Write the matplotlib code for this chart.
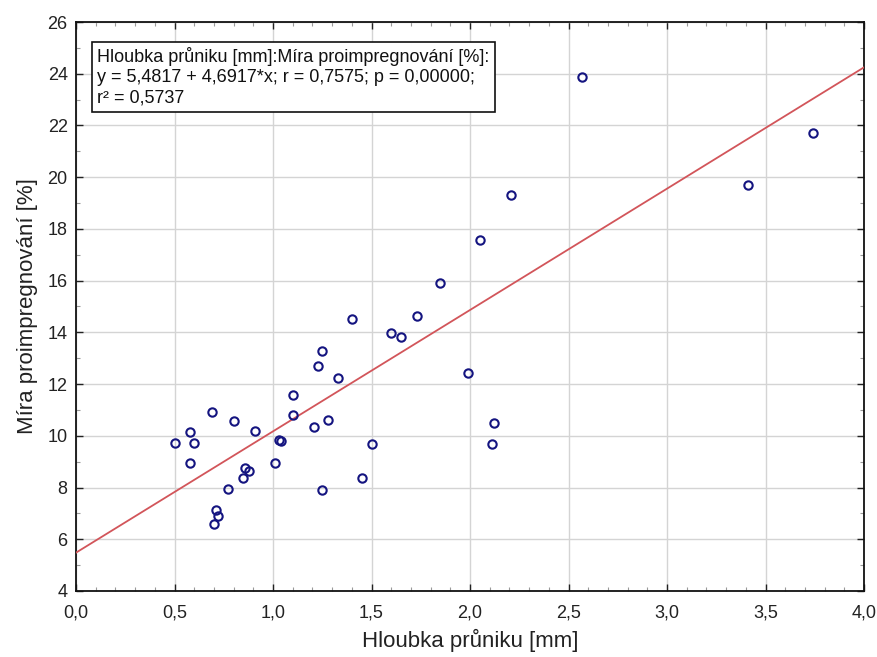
import matplotlib
matplotlib.use("Agg")
import matplotlib.pyplot as plt
import numpy as np
from matplotlib.ticker import MultipleLocator, FuncFormatter

# Penetration depth [mm] and impregnation rate [%]
hloubka = [2.57, 3.74, 3.41, 2.21, 2.05, 1.85, 1.40, 1.73, 1.60, 1.65,
           1.25, 1.23, 1.33, 1.99, 1.28, 1.21, 2.12, 1.50, 2.11, 1.45,
           1.25, 1.10, 0.69, 0.80, 1.10, 0.58, 0.91, 0.50, 0.60, 1.03,
           1.04, 0.58, 1.01, 0.86, 0.88, 0.85, 0.77, 0.71, 0.72, 0.70]
mira = [23.87, 21.70, 19.69, 19.33, 17.56, 15.90, 14.53, 14.65, 13.99, 13.81,
        13.27, 12.71, 12.22, 12.44, 10.62, 10.35, 10.50, 9.68, 9.68, 8.35,
        7.92, 11.56, 10.92, 10.58, 10.79, 10.14, 10.19, 9.74, 9.74, 9.83,
        9.80, 8.93, 8.93, 8.77, 8.63, 8.36, 7.94, 7.15, 6.90, 6.60]

# Regression line coefficients
intercept = 5.4817
slope = 4.6917
r_value = 0.7575
r_squared = 0.5737

x_ticks = [0.0, 0.5, 1.0, 1.5, 2.0, 2.5, 3.0, 3.5, 4.0]
y_ticks = [4, 6, 8, 10, 12, 14, 16, 18, 20, 22, 24, 26]

plt.rcParams['font.family'] = ['Liberation Sans', 'DejaVu Sans']

fig = plt.figure(figsize=(8.78, 6.57), dpi=100)
ax = fig.add_axes([0.0866, 0.1005, 0.8975, 0.866])

ax.set_xlim(x_ticks[0], x_ticks[-1])
ax.set_ylim(y_ticks[0], y_ticks[-1])
ax.set_xticks(x_ticks)
ax.set_yticks(y_ticks)
ax.xaxis.set_minor_locator(MultipleLocator(0.1))
ax.yaxis.set_minor_locator(MultipleLocator(1))
ax.xaxis.set_major_formatter(FuncFormatter(lambda v, p: f"{v:.1f}".replace('.', ',')))
ax.yaxis.set_major_formatter(FuncFormatter(lambda v, p: f"{v:.0f}"))

ax.grid(True, which='major', color='#d4d4d4', linewidth=1.0)
ax.set_axisbelow(True)

ax.tick_params(which='both', direction='in', top=True, right=True,
               labelsize=13, colors='#222222')
ax.tick_params(which='major', length=5, width=1.0, pad=6)
ax.tick_params(which='minor', length=3, width=0.8, color='#999999')
ax.tick_params(axis='x', which='major', pad=10)
for s in ax.spines.values():
    s.set_linewidth(1.3)
    s.set_color('#111111')

xs = np.array([x_ticks[0], x_ticks[-1]])
ax.plot(xs, intercept + slope * xs, color='#d2555a', linewidth=1.3, zorder=3)

ax.plot(hloubka, mira, linestyle='none', marker='o', markersize=6,
        markerfacecolor='none', markeredgecolor='#141480',
        markeredgewidth=1.5, zorder=4, clip_on=False)

ax.set_xlabel('Hloubka průniku [mm]', fontsize=16, color='#222222', labelpad=5)
ax.set_ylabel('Míra proimpregnování [%]', fontsize=16, color='#222222', labelpad=7)

eq = ("Hloubka průniku [mm]:Míra proimpregnování [%]:\n"
      f"y = {intercept:.4f} + {slope:.4f}*x; r = {r_value:.4f}; p = 0,00000;\n"
      f"r² = {r_squared:.4f}").replace('.', ',')
ax.text(0.027, 0.956, eq, transform=ax.transAxes, fontsize=13,
        va='top', ha='left', color='#111111', linespacing=1.25, zorder=5,
        bbox=dict(boxstyle='square,pad=0.3', facecolor='white',
                  edgecolor='#111111', linewidth=1.2))

fig.savefig('out.png', dpi=100)
